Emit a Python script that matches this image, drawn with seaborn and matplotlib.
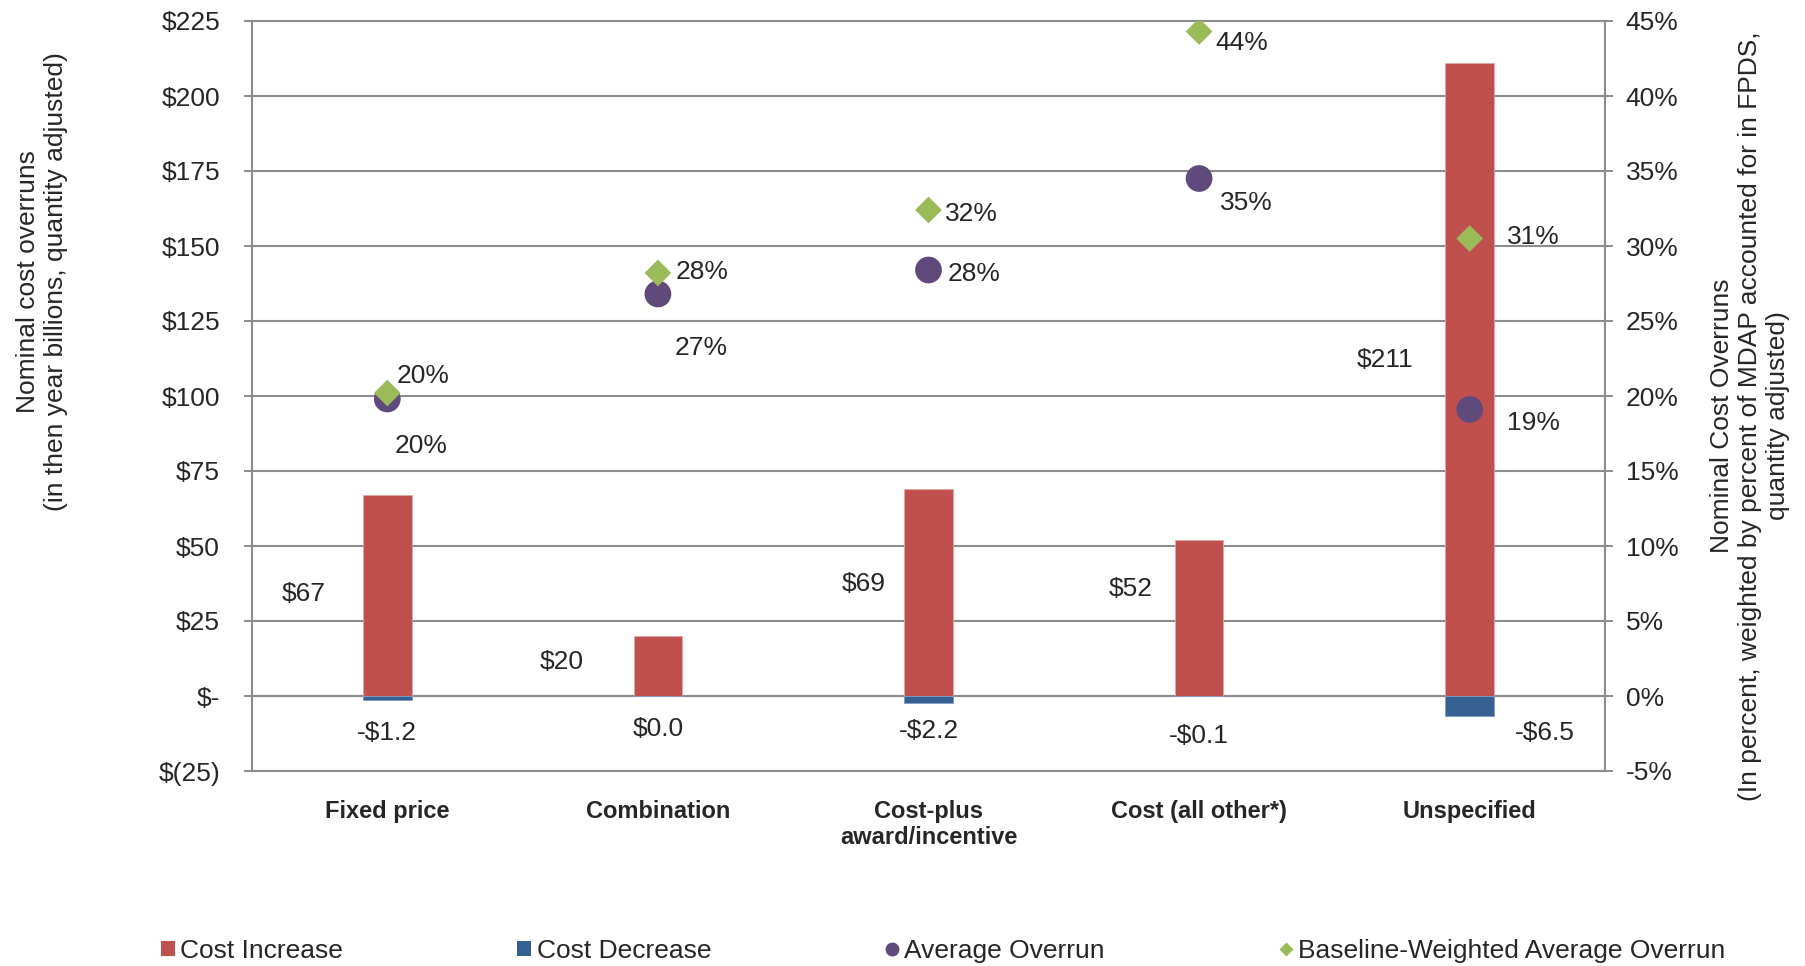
import numpy as np
import pandas as pd
import matplotlib
matplotlib.use("Agg")
import matplotlib.pyplot as plt
from matplotlib.patches import Patch
from matplotlib.lines import Line2D
from matplotlib import font_manager
import seaborn as sns

# ---------------- data ----------------
categories = ["Fixed price", "Combination", "Cost-plus\naward/incentive",
              "Cost (all other*)", "Unspecified"]
cost_increase = [67, 20, 69, 52, 211]
cost_decrease = [-1.2, 0.0, -2.2, -0.1, -6.5]
avg_overrun = [19.8, 26.8, 28.4, 34.5, 19.1]
baseline_weighted = [20.2, 28.2, 32.4, 44.3, 30.5]

increase_labels = ["$67", "$20", "$69", "$52", "$211"]
decrease_labels = ["-$1.2", "$0.0", "-$2.2", "-$0.1", "-$6.5"]
avg_labels = ["20%", "27%", "28%", "35%", "19%"]
base_labels = ["20%", "28%", "32%", "44%", "31%"]

left_ticks = [-25, 0, 25, 50, 75, 100, 125, 150, 175, 200, 225]
left_ticklabels = ["$(25)", "$-", "$25", "$50", "$75", "$100", "$125",
                   "$150", "$175", "$200", "$225"]
right_ticks = [-5, 0, 5, 10, 15, 20, 25, 30, 35, 40, 45]

# label offsets (points) relative to anchors
inc_offsets = [(-60, 1), (-69, 3), (-47, 6), (-49, 21), (-61, 14)]
dec_offsets = [(0, -27), (0, -24), (0, -25), (0, -29), (54, -27)]
avg_offsets = [(24, -34), (31, -39), (33, -3), (34, -18), (46, -10)]
base_offsets = [(26, 12), (32, 1), (31, -3), (31, -8), (46, 1)]

RED = "#C0504D"
BLUE = "#376092"
PURPLE = "#604A7B"
GREEN = "#9BBB59"
GRID = "#8C8C8C"
FS = 19

sns.set_theme(style="white")
avail = {f.name for f in font_manager.fontManager.ttflist}
base_font = "Liberation Sans" if "Liberation Sans" in avail else "DejaVu Sans"
plt.rcParams["font.family"] = [base_font, "DejaVu Sans"]

df = pd.DataFrame({"category": categories,
                   "increase": cost_increase,
                   "decrease": cost_decrease})
pos = np.arange(len(categories))

fig = plt.figure(figsize=(18.05, 9.66), dpi=100)
ax = fig.add_axes([252/1805, 1-771/966, (1605-252)/1805, (771-21)/966])

sns.barplot(data=df, x="category", y="increase", color=RED, width=0.18,
            saturation=1, ax=ax, edgecolor="#E6A6A4", linewidth=0.6, zorder=3)
sns.barplot(data=df, x="category", y="decrease", color=BLUE, width=0.18,
            saturation=1, ax=ax, edgecolor="#7F9CC4", linewidth=0.6, zorder=3)

ax.set_xlim(-0.5, len(categories) - 0.5)
ax.set_ylim(-25, 225)
ax.set_xlabel("")
ax.set_ylabel("")
ax.grid(axis="y", color=GRID, linewidth=1.5, zorder=0)
ax.set_axisbelow(True)
for s in ["left", "right", "top"]:
    ax.spines[s].set_color(GRID)
    ax.spines[s].set_linewidth(1.5)
ax.spines["bottom"].set_position(("data", 0))
ax.spines["bottom"].set_color(GRID)
ax.spines["bottom"].set_linewidth(1.5)
ax.axhline(-25, color=GRID, linewidth=1.5, clip_on=False)

# bar labels
for i, v in enumerate(cost_increase):
    ax.annotate(increase_labels[i], xy=(pos[i], v / 2), xytext=inc_offsets[i],
                textcoords="offset points", ha="center", va="center",
                fontsize=FS, zorder=5)
for i, v in enumerate(cost_decrease):
    ax.annotate(decrease_labels[i], xy=(pos[i], 0), xytext=dec_offsets[i],
                textcoords="offset points", ha="center", va="center",
                fontsize=FS, zorder=5)

# secondary axis
ax2 = ax.twinx()
sns.scatterplot(x=pos, y=avg_overrun, color=PURPLE, s=370, marker="o",
                edgecolor="none", ax=ax2, zorder=4, legend=False)
sns.scatterplot(x=pos, y=baseline_weighted, color=GREEN, s=185, marker="D",
                edgecolor="none", ax=ax2, zorder=5, legend=False)
ax2.set_xlim(-0.5, len(categories) - 0.5)
ax2.set_ylim(-5, 45)
ax2.set_yticks(right_ticks)
ax2.set_yticklabels([f"{t}%" for t in right_ticks], fontsize=FS)
ax2.tick_params(axis="y", length=6, width=1.4, color=GRID, direction="out",
                pad=9, right=True)
for s in ax2.spines.values():
    s.set_visible(False)

for i, v in enumerate(avg_overrun):
    ax2.annotate(avg_labels[i], xy=(pos[i], v), xytext=avg_offsets[i],
                 textcoords="offset points", ha="center", va="center", fontsize=FS)
for i, v in enumerate(baseline_weighted):
    ax2.annotate(base_labels[i], xy=(pos[i], v), xytext=base_offsets[i],
                 textcoords="offset points", ha="center", va="center", fontsize=FS)

# ticks on primary axis (set after all plotting)
ax.set_yticks(left_ticks)
ax.set_yticklabels(left_ticklabels, fontsize=FS)
ax.tick_params(axis="y", which="major", length=6, width=1.4, color=GRID,
               direction="out", pad=17, left=True)
ax.set_xticks(pos)
ax.set_xticklabels(categories, fontsize=17, fontweight="bold", linespacing=1.15)
ax.set_xticks(np.arange(len(categories) - 1) + 0.5, minor=True)
ax.tick_params(axis="x", which="major", length=0, pad=75, labelsize=17)
ax.tick_params(axis="x", which="minor", length=6, width=1.4, color=GRID,
               direction="out")
for lab in ax.get_xticklabels():
    lab.set_fontweight("bold")
    lab.set_fontsize(17)

# axis titles
fig.text(42/1805, 1 - 282/966,
         "Nominal cost overruns\n(in then year billions, quantity adjusted)",
         rotation=90, ha="center", va="center", fontsize=FS,
         multialignment="center", linespacing=1.2)
fig.text(1750/1805, 1 - 416/966,
         "Nominal Cost Overruns\n(In percent, weighted by percent of MDAP accounted for in FPDS,\nquantity adjusted)",
         rotation=90, ha="center", va="center", fontsize=FS,
         multialignment="center", linespacing=1.2)

# legend
handles = [
    Patch(facecolor=RED, edgecolor="none", label="Cost Increase"),
    Patch(facecolor=BLUE, edgecolor="none", label="Cost Decrease"),
    Line2D([], [], marker="o", color="none", markerfacecolor=PURPLE,
           markeredgecolor="none", markersize=10, label="Average Overrun"),
    Line2D([], [], marker="D", color="none", markerfacecolor=GREEN,
           markeredgecolor="none", markersize=7, label="Baseline-Weighted Average Overrun"),
]
fig.legend(handles=handles, loc="center left", bbox_to_anchor=(161/1805, 1 - 951/966),
           ncol=4, frameon=False, fontsize=FS, handlelength=0.53, handleheight=0.53,
           handletextpad=0.2, columnspacing=6.6, borderaxespad=0, borderpad=0)

fig.savefig("out.png", dpi=100)
